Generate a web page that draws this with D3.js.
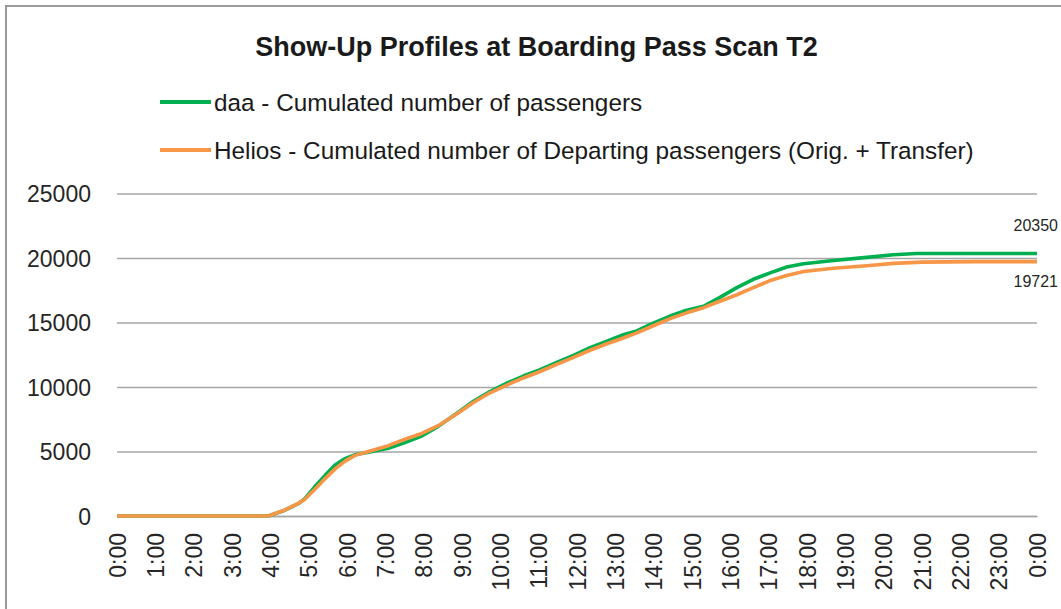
<!DOCTYPE html>
<html><head><meta charset="utf-8">
<script src="https://cdn.jsdelivr.net/npm/d3@7"></script>
<style>html,body{margin:0;padding:0;background:#fff;overflow:hidden}svg{display:block}</style>
</head><body>
<script>
const titleText = "Show-Up Profiles at Boarding Pass Scan T2";
const seriesNames = ["daa - Cumulated number of passengers", "Helios - Cumulated number of Departing passengers (Orig. + Transfer)"];
const xTickLabels = ["0:00","1:00","2:00","3:00","4:00","5:00","6:00","7:00","8:00","9:00","10:00","11:00","12:00","13:00","14:00","15:00","16:00","17:00","18:00","19:00","20:00","21:00","22:00","23:00","0:00"];
const yTicks = [0, 5000, 10000, 15000, 20000, 25000];
// time in hours since 0:00
const daaHours = [0,3.95,4.38,4.73,4.9,5.17,5.43,5.69,5.95,6.21,6.56,7.08,7.51,7.95,8.38,8.86,9.3,9.73,10.17,10.6,11.04,11.47,11.91,12.34,12.78,13.21,13.56,13.99,14.43,14.86,15.3,15.73,16.17,16.6,17.04,17.47,17.91,18.69,19.56,20.25,20.86,24];
const daaValues = [0,0,450,950,1350,2300,3150,3950,4450,4750,4950,5250,5700,6200,6950,7950,8900,9650,10300,10850,11350,11900,12450,13050,13550,14050,14350,14950,15500,15950,16250,16950,17700,18350,18850,19300,19550,19800,20050,20250,20350,20350];
const heliosHours = [0,3.95,4.38,4.73,4.9,5.17,5.43,5.69,5.95,6.21,6.56,7.08,7.51,7.95,8.38,8.86,9.3,9.73,10.17,10.6,11.04,11.47,11.91,12.34,12.78,13.21,13.56,13.99,14.43,14.86,15.3,15.73,16.17,16.6,17.04,17.47,17.91,18.69,19.56,20.25,21.0,22.4,24];
const heliosValues = [0,0,470,980,1300,2100,2900,3650,4250,4700,5000,5450,5950,6400,7000,7900,8800,9550,10150,10700,11200,11750,12300,12850,13350,13800,14200,14750,15300,15750,16150,16650,17150,17700,18250,18650,18950,19200,19400,19580,19680,19721,19721];
const endLabels = ["20350", "19721"];

const W = 1061, H = 609;
const FONT = "'Liberation Sans', Arial, sans-serif";
const colors = ["#00B050", "#F79646"];

const svg = d3.select("body").append("svg").attr("width", W).attr("height", H);
svg.append("rect").attr("width", W).attr("height", H).attr("fill", "#fff");
// chart border (only left/top visible in the crop)
svg.append("rect").attr("x", 6).attr("y", 6).attr("width", W + 20).attr("height", H + 20)
  .attr("fill", "none").attr("stroke", "#9a9a9a").attr("stroke-width", 2);

const x = d3.scaleLinear().domain([0, 24]).range([117, 1037]);
const y = d3.scaleLinear().domain([0, 25000]).range([516, 193.5]);

function fitText(sel, target, maxSize) {
  let fs = maxSize;
  sel.attr("font-size", fs);
  const w = sel.node().getComputedTextLength();
  if (w > target) { fs = fs * target / w; sel.attr("font-size", fs); }
  return fs;
}

// title
const title = svg.append("text").attr("x", 536.5).attr("y", 56).attr("text-anchor", "middle")
  .attr("font-family", FONT).attr("font-weight", "bold").attr("fill", "#1a1a1a").text(titleText);
fitText(title, 563, 28);

// gridlines
const yAxis = d3.axisLeft(y).tickValues(yTicks).tickSize(-(x.range()[1] - x.range()[0])).tickFormat(d3.format("d")).tickPadding(26);
const gy = svg.append("g").attr("transform", `translate(${x.range()[0]},0)`).call(yAxis);
gy.select(".domain").remove();
gy.selectAll(".tick line").attr("stroke", "#a6a6a6").attr("stroke-width", 1.6);
gy.selectAll(".tick text").attr("font-family", FONT).attr("font-size", 23).attr("fill", "#262626").attr("dy", "0.35em");

// x axis labels
const xAxis = d3.axisBottom(x).tickValues(d3.range(0, 25)).tickFormat((d, i) => xTickLabels[i]).tickSize(0);
const gx = svg.append("g").attr("transform", `translate(0,${y(0)})`).call(xAxis);
gx.select(".domain").attr("stroke", "#a6a6a6").attr("stroke-width", 1.6);
gx.selectAll(".tick text").attr("font-family", FONT).attr("font-size", 23).attr("fill", "#262626")
  .attr("text-anchor", "end").attr("transform", "translate(0,17) rotate(-90)").attr("x", 0).attr("y", 0).attr("dy", "0.35em");

// lines
const line = d3.line().x(d => x(d[0])).y(d => y(d[1]));
const daa = daaHours.map((h, i) => [h, daaValues[i]]);
const helios = heliosHours.map((h, i) => [h, heliosValues[i]]);
svg.append("path").datum(daa).attr("d", line).attr("fill", "none").attr("stroke", colors[0]).attr("stroke-width", 3.6).attr("stroke-linejoin", "round");
svg.append("path").datum(helios).attr("d", line).attr("fill", "none").attr("stroke", colors[1]).attr("stroke-width", 3.6).attr("stroke-linejoin", "round");

// end labels
svg.append("text").attr("x", 1058).attr("y", y(daaValues[daaValues.length - 1]) - 22).attr("text-anchor", "end")
  .attr("font-family", FONT).attr("font-size", 16).attr("fill", "#262626").text(endLabels[0]);
svg.append("text").attr("x", 1058).attr("y", y(heliosValues[heliosValues.length - 1]) + 25).attr("text-anchor", "end")
  .attr("font-family", FONT).attr("font-size", 16).attr("fill", "#262626").text(endLabels[1]);

// legend
const legY = [102, 150];
const legTexts = [];
seriesNames.forEach((n, i) => {
  svg.append("line").attr("x1", 160).attr("x2", 211).attr("y1", legY[i]).attr("y2", legY[i])
    .attr("stroke", colors[i]).attr("stroke-width", 4);
  legTexts.push(svg.append("text").attr("x", 214).attr("y", legY[i]).attr("dy", "0.35em")
    .attr("font-family", FONT).attr("fill", "#1a1a1a").text(n));
});
const fs = fitText(legTexts[1], 760, 25);
legTexts[0].attr("font-size", fs);
</script>
</body></html>
